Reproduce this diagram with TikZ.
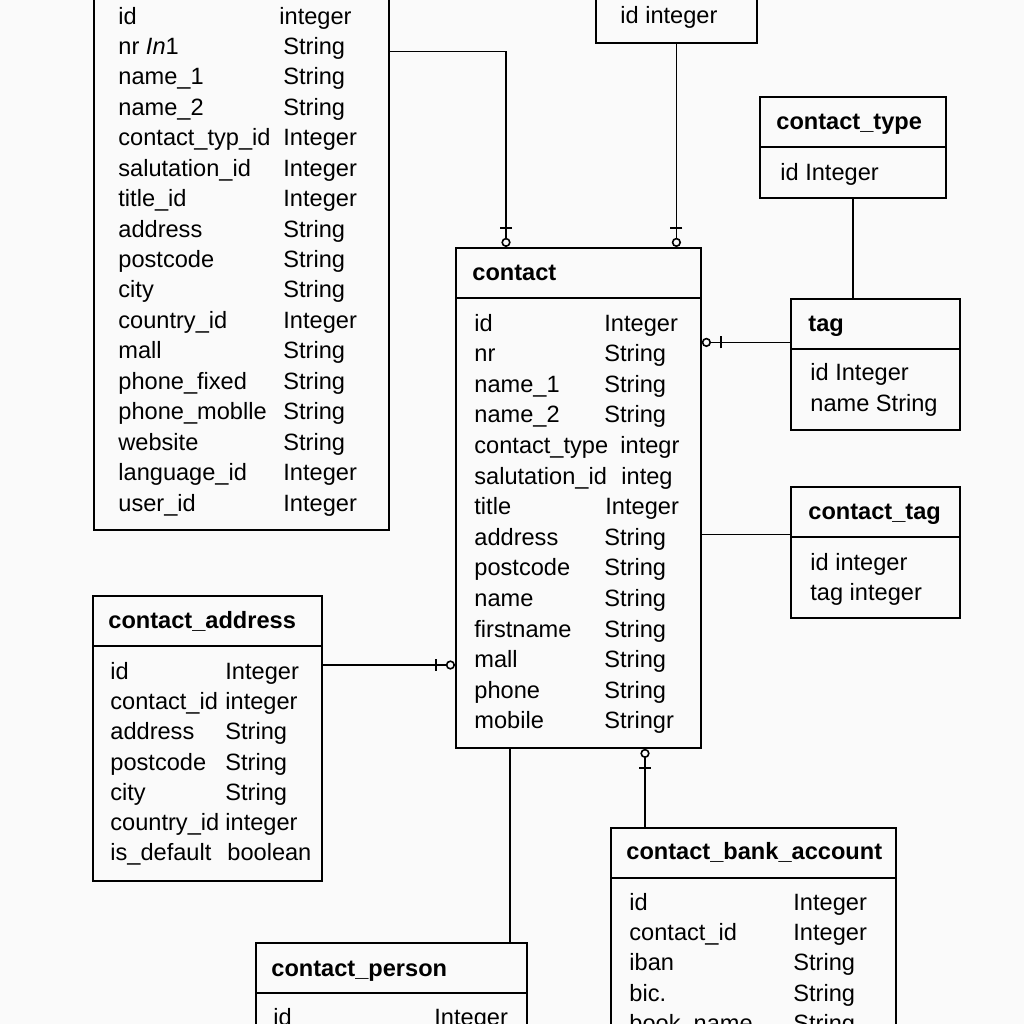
\documentclass[tikz,border=0pt]{standalone}
\usepackage{fontspec}
\setmainfont{Liberation Sans}
\usetikzlibrary{positioning,arrows.meta,calc}
\tikzset{
  tbl/.style={draw=black, line width=0.9pt, anchor=north west, inner sep=0pt},
  hd/.style={font=\fontsize{11.8}{14}\selectfont\bfseries, anchor=base west, inner sep=0pt},
  fld/.style={font=\fontsize{11.8}{14}\selectfont, anchor=base west, inner sep=0pt},
  conn/.style={line width=0.8pt},
  zo/.style={conn, -{Bar[width=6pt,sep=4.5pt] Circle[open,length=4.6pt]}},
}

\begin{document}
\begin{tikzpicture}[x=0.5pt, y=-0.5pt]
  \fill[black!2] (0,0) rectangle (1024,1024);
  \clip (0,0) rectangle (1024,1024);
  % tables
  \node[tbl, minimum width=147.5pt, minimum height=284.5pt] (tl) at (93,-40) {};
  \node[tbl, minimum width=80.5pt, minimum height=41pt] (ttop) at (595,-40) {};
  \node[tbl, minimum width=93pt, minimum height=50.5pt] (ctype) at (759,96) {};
  \node[tbl, minimum width=84.5pt, minimum height=65.5pt] (tag) at (790,298) {};
  \node[tbl, minimum width=122.5pt, minimum height=250pt] (contact) at (455,247) {};
  \node[tbl, minimum width=84.5pt, minimum height=65.5pt] (ctag) at (790,486) {};
  \node[tbl, minimum width=114.5pt, minimum height=142.5pt] (caddr) at (92,595) {};
  \node[tbl, minimum width=142.5pt, minimum height=116.5pt] (bank) at (610,827) {};
  \node[tbl, minimum width=135.5pt, minimum height=59pt] (person) at (255,942) {};
  \foreach \t in {ctype,tag,contact,ctag,caddr,bank,person}
    \draw[line width=0.9pt] ([yshift=-25.5pt]\t.north west) -- ([yshift=-25.5pt]\t.north east);

  % headers
  \node[hd] (contact-h) at (472,280) {contact};
  \node[hd] (ctype-h) at (776,129) {contact\_type};
  \node[hd] (tag-h) at (808,331) {tag};
  \node[hd] (ctag-h) at (808,519) {contact\_tag};
  \node[hd] (caddr-h) at (108,628) {contact\_address};
  \node[hd] (bank-h) at (626,859) {contact\_bank\_account};
  \node[hd] (person-h) at (271,976) {contact\_person};

  % fields
  \foreach \n/\t/\tx [count=\i] in {id/integer/279, nr \textit{In}1/String/283,
      name\_1/String/283, name\_2/String/283, contact\_typ\_id/Integer/283,
      salutation\_id/Integer/283, title\_id/Integer/283, address/String/283,
      postcode/String/283, city/String/283, country\_id/Integer/283, mall/String/283,
      phone\_fixed/String/283, phone\_moblle/String/283, website/String/283,
      language\_id/Integer/283, user\_id/Integer/283} {
    \node[fld] (tl-n\i) at (118,{24+(\i-1)*30.44}) {\n};
    \node[fld] (tl-t\i) at (\tx,{24+(\i-1)*30.44}) {\t};
  }
  \node[fld] (ttop-n1) at (620,23) {id integer};
  \node[fld] (ctype-n1) at (780,180) {id Integer};
  \node[fld] (tag-n1) at (810,380) {id Integer};
  \node[fld] (tag-n2) at (810,411) {name String};
  \node[fld] (ctag-n1) at (810,570) {id integer};
  \node[fld] (ctag-n2) at (810,600) {tag integer};
  \foreach \n/\t/\tx [count=\i] in {id/Integer/604, nr/String/604, name\_1/String/604,
      name\_2/String/604, contact\_type/integr/620, salutation\_id/integ/621,
      title/Integer/605, address/String/604, postcode/String/604, name/String/604,
      firstname/String/604, mall/String/604, phone/String/604, mobile/Stringr/604} {
    \node[fld] (contact-n\i) at (474,{331+(\i-1)*30.6}) {\n};
    \node[fld] (contact-t\i) at (\tx,{331+(\i-1)*30.6}) {\t};
  }
  \foreach \n/\t/\tx [count=\i] in {id/Integer/225, contact\_id/integer/225,
      address/String/225, postcode/String/225, city/String/225,
      country\_id/integer/225, is\_default/boolean/227} {
    \node[fld] (caddr-n\i) at (110,{679+(\i-1)*30.33}) {\n};
    \node[fld] (caddr-t\i) at (\tx,{679+(\i-1)*30.33}) {\t};
  }
  \foreach \n/\t [count=\i] in {id/Integer, contact\_id/Integer, iban/String,
      bic./String, book\_name/String} {
    \node[fld] (bank-n\i) at (629,{910+(\i-1)*30.4}) {\n};
    \node[fld] (bank-t\i) at (793,{910+(\i-1)*30.4}) {\t};
  }
  \node[fld] (person-n1) at (273,1025) {id};
  \node[fld] (person-t1) at (434,1025) {Integer};

  % relations
  \draw[zo] ([yshift=-2.5pt]tl.east |- tl-n2) -| ([xshift=25.5pt]contact.north west);
  \draw[zo] (ttop.south) -- (ttop.south |- contact.north);
  \draw[conn] (ctype.south) -- (ctype.south |- tag.north);
  \coordinate (tag-in) at ([yshift=11pt]tag.west);
  \draw[zo] (tag-in) -- (tag-in -| contact.east);
  \coordinate (ctag-in) at ([yshift=9pt]ctag.west);
  \draw[conn] (ctag-in) -- (ctag-in -| contact.east);
  \coordinate (caddr-out) at ([yshift=-35pt]caddr.north east);
  \draw[zo] (caddr-out) -- (caddr-out -| contact.west);
  \coordinate (bank-in) at ([xshift=17.5pt]bank.north west);
  \draw[zo] (bank-in) -- (bank-in |- contact.south);
  \coordinate (c-out) at ([xshift=27.5pt]contact.south west);
  \draw[conn] (c-out) -- (c-out |- person.north);
\end{tikzpicture}
\end{document}
